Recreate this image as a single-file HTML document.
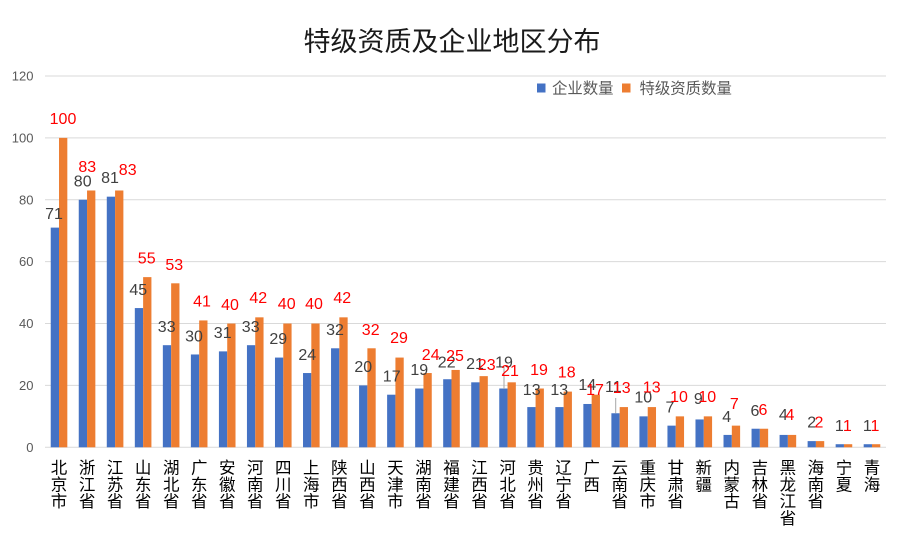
<!DOCTYPE html>
<html><head><meta charset="utf-8"><style>
html,body{margin:0;padding:0;background:#fff;}
svg{display:block;}
text{font-family:"Liberation Sans","Noto Sans CJK SC",sans-serif;}
.cj{font-family:"Liberation Sans","Noto Sans CJK SC",sans-serif;}
</style></head><body>
<svg id="c" width="898" height="541" viewBox="0 0 898 541" xmlns="http://www.w3.org/2000/svg">
<rect width="898" height="541" fill="#fff"/>
<text x="452" y="51" text-anchor="middle" font-size="27" fill="#1a1a1a" class="cj">特级资质及企业地区分布</text>
<g id="grid" stroke="#d9d9d9" stroke-width="1"></g>
<g id="ylab" font-size="13" fill="#595959" text-anchor="end"></g>
<g id="bars"></g>
<g id="lines" stroke="#a6a6a6" stroke-width="1"></g>
<g id="dl" font-size="16" text-anchor="middle"></g>
<g id="xl" font-size="16.5" fill="#000" text-anchor="middle" class="cj"></g>
<rect x="537" y="83.5" width="8.5" height="9" fill="#4472C4"/>
<text x="552" y="93.5" font-size="15.4" fill="#595959" class="cj">企业数量</text>
<rect x="622" y="83.5" width="8.5" height="9" fill="#ED7D31"/>
<text x="639.5" y="93.5" font-size="15.4" fill="#595959" class="cj">特级资质数量</text>
</svg>
<script>
var NS="http://www.w3.org/2000/svg";
function el(p,t,a,txt){var e=document.createElementNS(NS,t);for(var k in a)e.setAttribute(k,a[k]);if(txt!==undefined)e.textContent=txt;document.getElementById(p).appendChild(e);return e;}
var y0=447.3,k=3.0942,L=45,W=841/30,bw=8.3;
for(var v=0;v<=120;v+=20){var y=y0-v*k;el("grid","line",{x1:L,x2:886,y1:y.toFixed(1),y2:y.toFixed(1)});el("ylab","text",{x:33.5,y:(y+4.6).toFixed(1)},String(v));}
var d=[["北京市",71,100,54,213,63,118],["浙江省",80,83,82.7,180.7,87.3,166],["江苏省",81,83,110,177,127.7,169],["山东省",45,55,138.3,289.3,146.7,257.7],["湖北省",33,53,166.7,326,174.3,264],["广东省",30,41,194,335.7,202,300.7],["安徽省",31,40,222.7,332.3,230,304],["河南省",33,42,250.7,326,258.3,297.3],["四川省",29,40,278.3,338.3,286.7,303.3],["上海市",24,40,307.3,354,314,303.3],["陕西省",32,42,335,329,342.3,297.3],["山西省",20,32,363.3,366,370.7,329.3],["天津市",17,29,391.7,375.7,399,337.3],["湖南省",19,24,419.3,369,430.7,354],["福建省",22,25,446.7,361.7,455,355],["江西省",21,23,475,363.3,486.7,364],["河北省",19,21,504,361.7,510,370],["贵州省",13,19,531.7,389,539,369],["辽宁省",13,18,559.3,389,566.7,371.7],["广西",14,17,587.3,384,595,389],["云南省",11,13,613.3,386,621.7,387.3],["重庆市",10,13,643.3,396.7,651.7,386.7],["甘肃省",7,10,670,406.7,679,396],["新疆",9,10,698.3,398.3,707.3,396],["内蒙古",4,7,726.7,416,734.3,403.3],["吉林省",6,6,755,410,763,409],["黑龙江省",4,4,783.3,414,790,414],["海南省",2,2,811.7,421.7,819,421.7],["宁夏",1,1,839.3,425,847.3,425],["青海",1,1,867.3,425,875,425]];
d.forEach(function(r,i){var c=L+W*(i+0.5);
var hb=r[1]*k,ho=r[2]*k;
el("bars","rect",{x:(c-bw).toFixed(2),y:(y0-hb).toFixed(2),width:bw,height:hb.toFixed(2),fill:"#4472C4"});
el("bars","rect",{x:c.toFixed(2),y:(y0-ho).toFixed(2),width:bw,height:ho.toFixed(2),fill:"#ED7D31"});
el("dl","text",{x:r[3],y:(r[4]+5.8).toFixed(1),fill:"#404040"},String(r[1]));
el("dl","text",{x:r[5],y:(r[6]+5.8).toFixed(1),fill:"#FF0000"},String(r[2]));
var s=r[0];for(var j=0;j<s.length;j++){el("xl","text",{x:c.toFixed(1),y:(473.7+j*16.7).toFixed(1)},s[j]);}
});
el("lines","line",{x1:504,x2:504,y1:367,y2:389});
el("lines","line",{x1:615.7,x2:615.7,y1:398,y2:413.3});
</script>
</body></html>
